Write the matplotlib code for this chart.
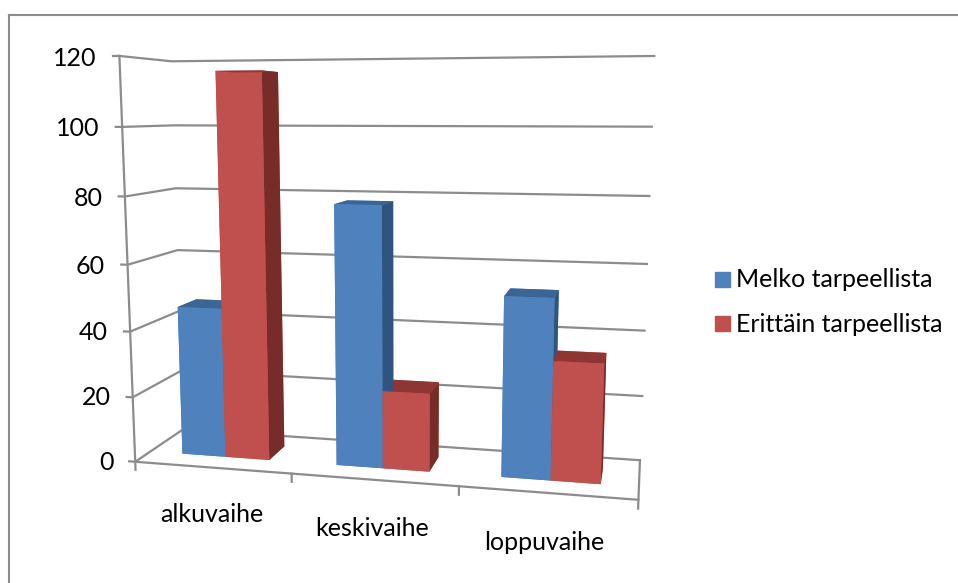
import matplotlib
matplotlib.use('Agg')
import matplotlib.pyplot as plt
import numpy as np
from matplotlib.lines import Line2D
from mpl_toolkits.mplot3d import proj3d

plt.rcParams['font.family'] = ['Lato', 'DejaVu Sans']

categories = ['alkuvaihe', 'keskivaihe', 'loppuvaihe']
series_names = ['Melko tarpeellista', 'Erittäin tarpeellista']
melko = [46, 78, 53]
erittain = [116, 23.5, 35]
value_ticks = [0, 20, 40, 60, 80, 100, 120]

BLUE = ['#4F81BD', '#3A6594', '#4F81BD', '#4F81BD', '#4F81BD', '#2F5480']
RED = ['#C0504D', '#8E3633', '#C0504D', '#C0504D', '#C0504D', '#772C2A']
GRID = '#8C8C8C'

# where the chart's box corners land in the picture: (x, depth, value) -> pixel
box_points = [(0, 0, 0), (3, 0, 0), (0, 1, 0), (3, 1, 0), (0, 0, 120), (0, 1, 120),
              (3, 1, 120), (0, 0, 80), (0, 1, 80), (3, 1, 80)]
box_pixels = [(133, 462), (638, 500), (185, 429), (640, 460), (120, 55), (170, 62),
              (654, 56), (127, 197), (175, 188), (650, 196)]


def fit_camera(points, pixels):
    # least squares for a 3x4 perspective matrix, last entry fixed to 1
    rows, rhs = [], []
    for (x, y, z), (u, v) in zip(points, pixels):
        rows.append([x, y, z, 1, 0, 0, 0, 0, -u * x, -u * y, -u * z])
        rows.append([0, 0, 0, 0, x, y, z, 1, -v * x, -v * y, -v * z])
        rhs += [u, v]
    p = np.linalg.lstsq(np.array(rows, float), np.array(rhs, float), rcond=None)[0]
    # third row gives -1/w, so bigger means further from the camera
    return np.array([p[:4], p[4:8], [0, 0, 0, -1], [p[8], p[9], p[10], 1]])


fig = plt.figure(figsize=(9.58, 5.83), dpi=100)

# outer chart border, only the left and top edges are inside the picture
border = fig.add_axes([9 / 958, 0, 949 / 958, 1 - 15 / 583])
border.set_xticks([])
border.set_yticks([])
border.spines[['right', 'bottom']].set_visible(False)
border.spines[['left', 'top']].set_color(GRID)
border.spines[['left', 'top']].set_linewidth(1.5)

ax = fig.add_axes([0, 0, 1, 1], projection='3d', computed_zorder=False)
ax.patch.set_alpha(0)
ax.set_axis_off()
ax.set_proj_type('ortho')  # stops Line3D masking points outside -1..1
camera = fit_camera(box_points, box_pixels)
ax.get_proj = lambda: camera
ax.apply_aspect = lambda position=None: None


def label(x, y, z, s, ha):
    u, v, _ = proj3d.proj_transform(x, y, z, camera)
    ax.text2D(u, v, s, transform=ax.transData, ha=ha, va='center', fontsize=18, color='black')


# walls and gridlines
for v in value_ticks:
    ax.plot([-0.04, 0, 0, 3], [0, 0, 1, 1], [v, v, v, v], color=GRID, lw=1.6, zorder=1)
    label(-0.145, 0, v - 0.6, str(v), 'right')
ax.plot([0, 0], [0, 0], [-2.5, 120], color=GRID, lw=1.6, zorder=1)
ax.plot([0, 3, 3], [0, 0, 1], [0, 0, 0], color=GRID, lw=1.6, zorder=1)
for i in range(1, 4):
    ax.plot([i, i], [0, 0], [0, -2.5], color=GRID, lw=1.6, zorder=1)

# bars
bar_w = 1 / 3.5
depth = 0.4
lefts, heights, colors = [], [], []
for i in range(len(categories)):
    for k, vals in enumerate([melko, erittain]):
        lefts.append(i + 0.5 + (k - 1) * bar_w)
        heights.append(vals[i])
        colors += BLUE if k == 0 else RED
n = len(lefts)
ax.bar3d(lefts, [0.3] * n, [0] * n, [bar_w] * n, [depth] * n, heights,
         color=colors, shade=False, zorder=3, linewidth=0)

for i, name in enumerate(categories):
    label(i + 0.49, 0, -14.6, name, 'center')

# the 2D side of the 3D axes works in picture pixels
ax.viewLim.intervalx = (0, 958)
ax.viewLim.intervaly = (583, 0)

handles = [Line2D([], [], ls='', marker='s', ms=10.8, color=BLUE[0]),
           Line2D([], [], ls='', marker='s', ms=10.8, color=RED[0])]
fig.legend(handles, series_names, loc='center left', bbox_to_anchor=(714 / 958, 1 - 302 / 583),
           frameon=False, fontsize=18, labelspacing=0.86, handlelength=0.6, handletextpad=0.28,
           borderpad=0, borderaxespad=0)

fig.savefig('out.png', dpi=100)
